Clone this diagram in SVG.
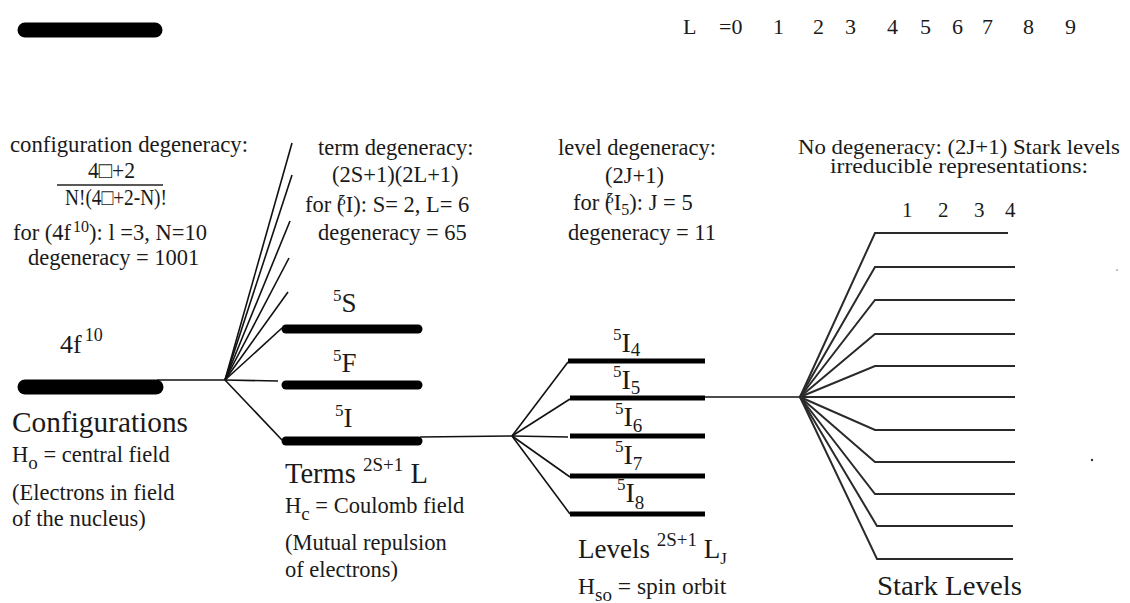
<svg xmlns="http://www.w3.org/2000/svg" width="1130" height="603" viewBox="0 0 1130 603">
<style>
text{font-family:"Liberation Serif","Times New Roman",serif;fill:#1a1a1a}
.t22{font-size:22.5px}
.thin{stroke:#111;stroke-width:1.6;fill:none}
.stark{stroke:#2a2a2a;stroke-width:2;fill:none}
.cfg{stroke:#000;stroke-width:15;stroke-linecap:round}
.term{stroke:#000;stroke-width:9;stroke-linecap:round}
.lvl{stroke:#000;stroke-width:5}
</style>
<rect width="1130" height="603" fill="#fff"/>

<g id="top-bar"><line class="cfg" x1="25" y1="30" x2="155" y2="30"/></g>
<g id="L-row" font-size="22">
<text x="683" y="34">L</text>
<text x="719" y="34">=0</text>
<text x="773" y="34">1</text>
<text x="813" y="34">2</text>
<text x="845" y="34">3</text>
<text x="887" y="34">4</text>
<text x="920" y="34">5</text>
<text x="952" y="34">6</text>
<text x="982" y="34">7</text>
<text x="1023" y="34">8</text>
<text x="1065" y="34">9</text>
</g>

<g id="connectors">
<polyline class="thin" points="157,380 225,380 278,381"/>
<line class="thin" x1="225" y1="380" x2="292" y2="143"/>
<line class="thin" x1="225" y1="380" x2="292" y2="175"/>
<line class="thin" x1="225" y1="380" x2="290" y2="221"/>
<line class="thin" x1="225" y1="380" x2="289" y2="258"/>
<line class="thin" x1="225" y1="380" x2="288" y2="292"/>
<line class="thin" x1="225" y1="380" x2="282" y2="328"/>
<line class="thin" x1="225" y1="380" x2="282" y2="440"/>
<polyline class="thin" points="420,437 512,436 568,437"/>
<line class="thin" x1="512" y1="436" x2="568" y2="362"/>
<line class="thin" x1="512" y1="436" x2="570" y2="399"/>
<line class="thin" x1="512" y1="436" x2="570" y2="477"/>
<line class="thin" x1="512" y1="436" x2="570" y2="514"/>
<polyline class="thin" points="705,397 800,397"/>
<polyline class="stark" points="800,397 875,233 1008,233"/>
<polyline class="stark" points="800,397 875,267 1015,267"/>
<polyline class="stark" points="800,397 875,300 1015,300"/>
<polyline class="stark" points="800,397 875,334 1015,334"/>
<polyline class="stark" points="800,397 875,366 1015,366"/>
<polyline class="stark" points="800,397 1015,397"/>
<polyline class="stark" points="800,397 875,430 1015,430"/>
<polyline class="stark" points="800,397 875,462 1015,462"/>
<polyline class="stark" points="800,397 875,494 1015,494"/>
<polyline class="stark" points="800,397 877,526 1013,526"/>
<polyline class="stark" points="800,397 877,559 1013,559"/>
</g>

<g id="configuration">
<line class="cfg" x1="25" y1="387" x2="156" y2="387"/>
<text x="60" y="353" font-size="26">4f<tspan dx="3" dy="-12" font-size="18">10</tspan></text>
<text x="12" y="432" font-size="28.5" textLength="176" lengthAdjust="spacingAndGlyphs">Configurations</text>
<text class="t22" x="12" y="462">H<tspan dy="7" font-size="19">o</tspan><tspan dy="-7"> = central field</tspan></text>
<text class="t22" x="12" y="500">(Electrons in field</text>
<text class="t22" x="12" y="526">of the nucleus)</text>
<text class="t22" x="10" y="152" textLength="238" lengthAdjust="spacingAndGlyphs">configuration degeneracy:</text>
<text class="t22" x="88" y="178" textLength="47" lengthAdjust="spacingAndGlyphs">4□+2</text>
<line x1="57" y1="185" x2="163" y2="185" stroke="#222" stroke-width="1.5"/>
<text class="t22" x="65" y="205" textLength="102" lengthAdjust="spacingAndGlyphs">N!(4□+2-N)!</text>
<text class="t22" x="13" y="240">for (4f<tspan dx="2" dy="-8" font-size="16">10</tspan><tspan dy="8">): l  =3, N=10</tspan></text>
<text class="t22" x="28" y="265">degeneracy = 1001</text>
</g>

<g id="terms">
<line class="term" x1="286" y1="329" x2="418" y2="329"/>
<line class="term" x1="286" y1="385" x2="418" y2="385"/>
<line class="term" x1="286" y1="441" x2="418" y2="441"/>
<text x="333" y="312" font-size="27"><tspan font-size="17" dy="-11">5</tspan><tspan dy="11">S</tspan></text>
<text x="333" y="372" font-size="27"><tspan font-size="17" dy="-11">5</tspan><tspan dy="11">F</tspan></text>
<text x="335" y="427" font-size="27"><tspan font-size="17" dy="-11">5</tspan><tspan dy="11">I</tspan></text>
<text x="285" y="483" font-size="28.5">Terms <tspan font-size="19" dy="-12">2S+1</tspan><tspan dy="12"> L</tspan></text>
<text class="t22" x="285" y="513">H<tspan dy="7" font-size="19">c</tspan><tspan dy="-7"> = Coulomb field</tspan></text>
<text class="t22" x="285" y="550">(Mutual repulsion</text>
<text class="t22" x="285" y="577">of electrons)</text>
<text class="t22" x="318" y="155">term degeneracy:</text>
<text class="t22" x="332" y="182">(2S+1)(2L+1)</text>
<text class="t22" x="305" y="212">for (<tspan dx="-6" dy="-7" font-size="15">5</tspan><tspan dy="7">I): S= 2, L= 6</tspan></text>
<text class="t22" x="318" y="240">degeneracy = 65</text>
</g>

<g id="levels">
<line class="lvl" x1="568" y1="361" x2="705" y2="361"/>
<line class="lvl" x1="570" y1="398" x2="705" y2="398"/>
<line class="lvl" x1="570" y1="436" x2="705" y2="436"/>
<line class="lvl" x1="570" y1="476" x2="705" y2="476"/>
<line class="lvl" x1="570" y1="514" x2="705" y2="514"/>
<text x="613" y="352" font-size="28"><tspan font-size="17" dy="-12">5</tspan><tspan dy="12">I</tspan><tspan font-size="19" dy="4">4</tspan></text>
<text x="613" y="389" font-size="28"><tspan font-size="17" dy="-12">5</tspan><tspan dy="12">I</tspan><tspan font-size="19" dy="5">5</tspan></text>
<text x="615" y="426" font-size="28"><tspan font-size="17" dy="-12">5</tspan><tspan dy="12">I</tspan><tspan font-size="19" dy="6">6</tspan></text>
<text x="615" y="464" font-size="28"><tspan font-size="17" dy="-12">5</tspan><tspan dy="12">I</tspan><tspan font-size="19" dy="6">7</tspan></text>
<text x="617" y="502" font-size="28"><tspan font-size="17" dy="-12">5</tspan><tspan dy="12">I</tspan><tspan font-size="19" dy="7">8</tspan></text>
<text x="578" y="558" font-size="27">Levels <tspan font-size="19" dy="-12">2S+1</tspan><tspan dy="12"> L</tspan><tspan font-size="17" dy="6">J</tspan></text>
<text x="578" y="594" font-size="23.5">H<tspan dy="7" font-size="19">so</tspan><tspan dy="-7"> = spin orbit</tspan></text>
<text class="t22" x="558" y="155">level degeneracy:</text>
<text class="t22" x="605" y="183">(2J+1)</text>
<text class="t22" x="573" y="210">for (<tspan dx="-6" dy="-7" font-size="15">5</tspan><tspan dy="7">I</tspan><tspan font-size="16" dy="5">5</tspan><tspan dy="-5">): J = 5</tspan></text>
<text class="t22" x="568" y="240">degeneracy = 11</text>
</g>

<g id="stark">
<text x="798" y="154" font-size="22" textLength="322" lengthAdjust="spacingAndGlyphs">No degeneracy: (2J+1) Stark levels</text>
<text x="830" y="173" font-size="22" textLength="258" lengthAdjust="spacingAndGlyphs">irreducible representations:</text>
<text x="902" y="217" font-size="21">1</text>
<text x="938" y="217" font-size="21">2</text>
<text x="974" y="217" font-size="21">3</text>
<text x="1005" y="217" font-size="21">4</text>
<text x="877" y="595" font-size="28" textLength="145" lengthAdjust="spacingAndGlyphs">Stark Levels</text>
<circle cx="1117" cy="270" r="0.8" fill="#777"/>
<circle cx="1092" cy="460" r="1.2" fill="#333"/>
</g>
</svg>
